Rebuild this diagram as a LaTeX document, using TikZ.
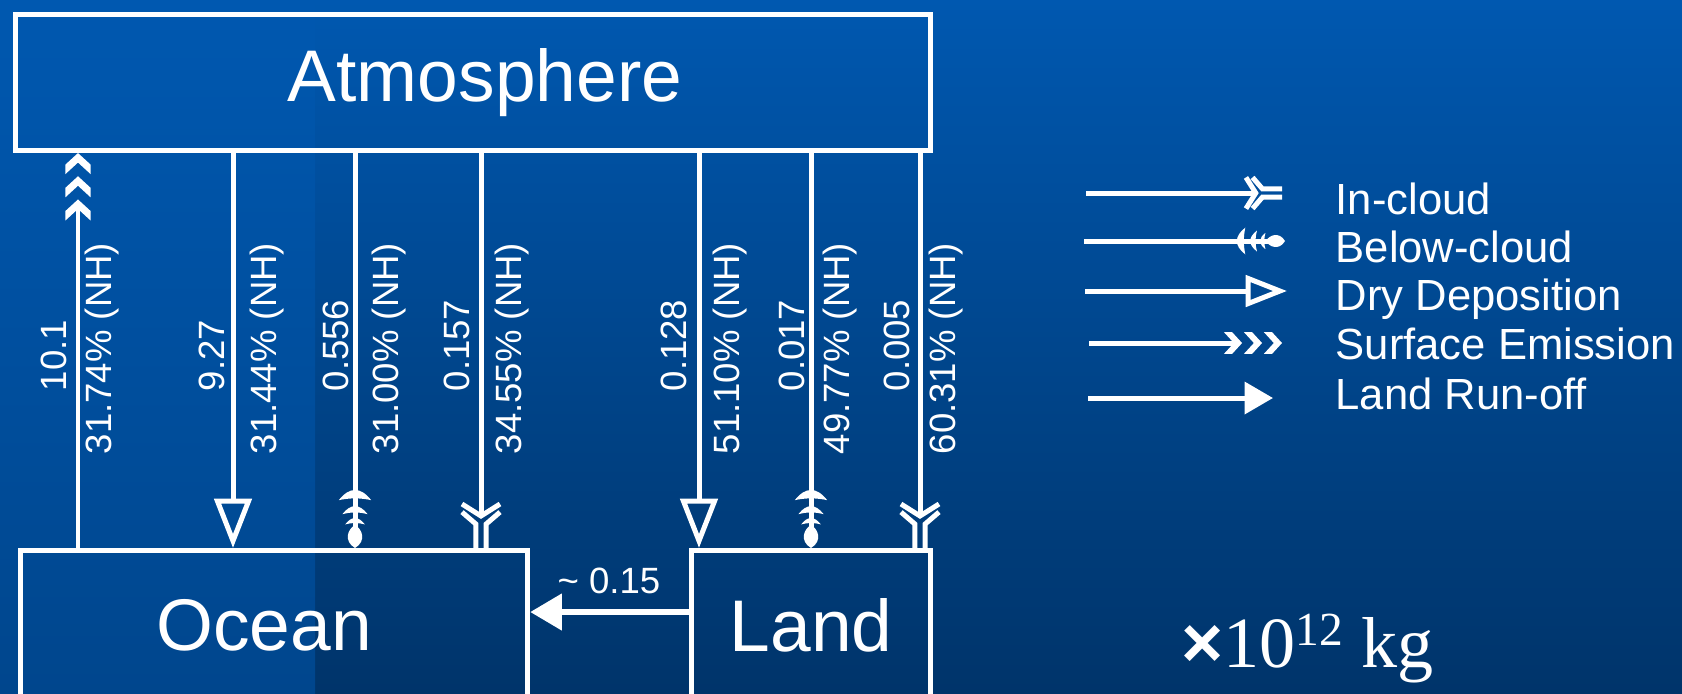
\documentclass[tikz,border=0pt]{standalone}
\usepackage{fontspec}
\setmainfont{Liberation Sans}
\newfontfamily\timesfont{Liberation Serif}
\usetikzlibrary{arrows.meta}

\definecolor{bgtop}{RGB}{0,88,176}
\definecolor{bgbot}{RGB}{0,52,106}
\definecolor{bgstrip}{RGB}{0,70,141}

\newdimen\tipu
\newdimen\tipl
\newdimen\tipb

% in-cloud: barb, then the line splits in two
\pgfdeclarearrow{
  name = InCloud,
  parameters = {\the\pgfarrowlength,\the\pgfarrowlinewidth},
  setup code = {
    \tipu=0.1\pgfarrowlength
    \tipl=-9.1\tipu
    \tipb=-12.5\tipu
    \pgfarrowssettipend{0pt}
    \pgfarrowssetlineend{\tipl}
    \pgfarrowssetbackend{\tipb}
    \pgfarrowssavethe\tipu
  },
  drawing code = {
    \pgfsetlinewidth{\pgfarrowlinewidth}
    \pgfsetmiterjoin\pgfsetbuttcap
    \pgfpathmoveto{\pgfqpoint{-12.5\tipu}{5.4\tipu}}
    \pgfpathlineto{\pgfqpoint{-9.1\tipu}{0pt}}
    \pgfpathlineto{\pgfqpoint{-12.5\tipu}{-5.4\tipu}}
    \pgfpathmoveto{\pgfqpoint{-10.2\tipu}{5.4\tipu}}
    \pgfpathlineto{\pgfqpoint{-6.8\tipu}{1.45\tipu}}
    \pgfpathlineto{\pgfqpoint{0pt}{1.45\tipu}}
    \pgfpathmoveto{\pgfqpoint{-10.2\tipu}{-5.4\tipu}}
    \pgfpathlineto{\pgfqpoint{-6.8\tipu}{-1.45\tipu}}
    \pgfpathlineto{\pgfqpoint{0pt}{-1.45\tipu}}
    \pgfusepathqstroke
  },
  defaults = {length=10pt, line width=0pt 1}
}

% below-cloud: three ribs and a drop
\pgfdeclarearrow{
  name = BelowCloud,
  parameters = {\the\pgfarrowlength},
  setup code = {
    \tipu=0.1\pgfarrowlength
    \tipl=-5\tipu
    \tipb=-16.5\tipu
    \pgfarrowssettipend{0pt}
    \pgfarrowssetlineend{\tipl}
    \pgfarrowssetbackend{\tipb}
    \pgfarrowssavethe\tipu
  },
  drawing code = {
    \pgfpathmoveto{\pgfqpoint{-13.6\tipu}{4.6\tipu}}
    \pgfpathquadraticcurveto{\pgfqpoint{-19.4\tipu}{0pt}}{\pgfqpoint{-13.6\tipu}{-4.6\tipu}}
    \pgfpathquadraticcurveto{\pgfqpoint{-14.6\tipu}{0pt}}{\pgfqpoint{-13.6\tipu}{4.6\tipu}}
    \pgfpathclose
    \pgfpathmoveto{\pgfqpoint{-9.6\tipu}{3.6\tipu}}
    \pgfpathquadraticcurveto{\pgfqpoint{-14.2\tipu}{0pt}}{\pgfqpoint{-9.6\tipu}{-3.6\tipu}}
    \pgfpathquadraticcurveto{\pgfqpoint{-10.6\tipu}{0pt}}{\pgfqpoint{-9.6\tipu}{3.6\tipu}}
    \pgfpathclose
    \pgfpathmoveto{\pgfqpoint{-6.7\tipu}{2.8\tipu}}
    \pgfpathquadraticcurveto{\pgfqpoint{-10.3\tipu}{0pt}}{\pgfqpoint{-6.7\tipu}{-2.8\tipu}}
    \pgfpathquadraticcurveto{\pgfqpoint{-7.5\tipu}{0pt}}{\pgfqpoint{-6.7\tipu}{2.8\tipu}}
    \pgfpathclose
    \pgfpathmoveto{\pgfqpoint{0pt}{0pt}}
    \pgfpathcurveto{\pgfqpoint{-2\tipu}{3.4\tipu}}{\pgfqpoint{-5.5\tipu}{2\tipu}}{\pgfqpoint{-6.5\tipu}{0pt}}
    \pgfpathcurveto{\pgfqpoint{-5.5\tipu}{-2\tipu}}{\pgfqpoint{-2\tipu}{-3.4\tipu}}{\pgfqpoint{0pt}{0pt}}
    \pgfpathclose
    \pgfusepathqfill
  },
  defaults = {length=10pt}
}

% surface emission: three chevrons
\pgfdeclarearrow{
  name = SurfEmit,
  parameters = {\the\pgfarrowlength},
  setup code = {
    \tipu=0.1\pgfarrowlength
    \tipl=-15.5\tipu
    \tipb=-19.1\tipu
    \pgfarrowssettipend{0pt}
    \pgfarrowssetlineend{\tipl}
    \pgfarrowssetbackend{\tipb}
    \pgfarrowssavethe\tipu
  },
  drawing code = {
    \pgfpathmoveto{\pgfqpoint{0pt}{0pt}}
    \pgfpathlineto{\pgfqpoint{-3.3\tipu}{3.6\tipu}}
    \pgfpathlineto{\pgfqpoint{-6\tipu}{3.6\tipu}}
    \pgfpathlineto{\pgfqpoint{-2.7\tipu}{0pt}}
    \pgfpathlineto{\pgfqpoint{-6\tipu}{-3.6\tipu}}
    \pgfpathlineto{\pgfqpoint{-3.3\tipu}{-3.6\tipu}}
    \pgfpathclose
    \pgfpathmoveto{\pgfqpoint{-6.6\tipu}{0pt}}
    \pgfpathlineto{\pgfqpoint{-9.9\tipu}{3.6\tipu}}
    \pgfpathlineto{\pgfqpoint{-12.6\tipu}{3.6\tipu}}
    \pgfpathlineto{\pgfqpoint{-9.3\tipu}{0pt}}
    \pgfpathlineto{\pgfqpoint{-12.6\tipu}{-3.6\tipu}}
    \pgfpathlineto{\pgfqpoint{-9.9\tipu}{-3.6\tipu}}
    \pgfpathclose
    \pgfpathmoveto{\pgfqpoint{-13.2\tipu}{0pt}}
    \pgfpathlineto{\pgfqpoint{-16.5\tipu}{3.6\tipu}}
    \pgfpathlineto{\pgfqpoint{-19.2\tipu}{3.6\tipu}}
    \pgfpathlineto{\pgfqpoint{-15.9\tipu}{0pt}}
    \pgfpathlineto{\pgfqpoint{-19.2\tipu}{-3.6\tipu}}
    \pgfpathlineto{\pgfqpoint{-16.5\tipu}{-3.6\tipu}}
    \pgfpathclose
    \pgfusepathqfill
  },
  defaults = {length=10pt}
}

\begin{document}
\begin{tikzpicture}[x=0.01cm, y=-0.01cm, color=white,
    box/.style={draw, line width=1.42pt, inner sep=0pt, font=\fontsize{20.8}{25}\selectfont},
    lbl/.style={rotate=90, anchor=base west, inner sep=0pt, font=\fontsize{10.4}{12}\selectfont},
    legtxt/.style={anchor=base west, inner sep=0pt, font=\fontsize{12.4}{15}\selectfont},
    flux/.style={line width=1.42pt},
    incloud/.style={-{InCloud[scale=#1]}}, incloud/.default=1,
    belowcloud/.style={-{BelowCloud[scale=#1]}}, belowcloud/.default=1,
    drydep/.style={-{Triangle[open,length=14pt,width=10.5pt,scale=#1]}}, drydep/.default=1,
    suremit/.style={-{SurfEmit[scale=#1]}}, suremit/.default=1,
    runoff/.style={-{Triangle[length=9pt,width=10pt,scale=#1]}}, runoff/.default=1]

  % background
  \useasboundingbox (0,0) rectangle (1682,693);
  \shade[top color=bgtop, bottom color=bgbot] (0,0) rectangle (1682,693);
  \shade[top color=bgtop, bottom color=bgstrip] (0,0) rectangle (315,693);

  % reservoirs
  \node[box, minimum width=9.15cm, minimum height=1.355cm] (atm) at (473,82.75) {\hspace*{0.24cm}Atmosphere};
  \node[box, minimum width=5.07cm, minimum height=1.5cm] (ocean) at (274,625.5) {Ocean\hspace*{0.2cm}};
  \node[box, minimum width=2.385cm, minimum height=1.5cm] (land) at (811.25,625.5) {Land};

  % fluxes
  \draw[flux, suremit] (ocean.north -| 78,0) -- (atm.south -| 78,0);
  \node[lbl] (v78) at (67,392) {10.1};
  \node[lbl] (p78) at (111,455) {31.74\% (NH)};

  \foreach \xx/\tp/\dest/\val/\vx/\pct/\px in {
      233/drydep/ocean/9.27/224/31.44/276.5,
      355/belowcloud/ocean/0.556/348/31.00/398,
      481/incloud/ocean/0.157/469.5/34.55/521,
      699/drydep/land/0.128/686/51.10/739,
      811/belowcloud/land/0.017/804/49.77/849,
      920/incloud/land/0.005/909.5/60.31/955.5}
  {
    \draw[flux, \tp] (atm.south -| \xx,0) -- (\dest.north -| \xx,0);
    \node[lbl] (v\xx) at (\vx,392) {\val};
    \node[lbl] (p\xx) at (\px,455) {\pct\% (NH)};
  }

  \draw[runoff, line width=1.9pt] (land.west |- 0,612) -- (ocean.east |- 0,612);
  \node[anchor=base, inner sep=0pt, font=\fontsize{10.4}{12}\selectfont] (rolbl) at (609,593) {\textasciitilde{} 0.15};

  % legend
  \foreach \ly/\lx/\lend/\tp/\sc/\ty/\txt [count=\i] in {
      193/1086/1282/incloud/0.82/214/In-cloud,
      241/1084/1285/belowcloud/0.83/262/Below-cloud,
      291/1085/1287/drydep/0.84/310/Dry Deposition,
      343/1089/1282/suremit/0.86/359/Surface Emission,
      398/1088/1273/runoff/0.9/409/Land Run-off}
  {
    \coordinate (ls\i) at (\lx,\ly);
    \coordinate (le\i) at (\lend,\ly);
    \draw[flux, \tp=\sc] (ls\i) -- (le\i);
    \node[legtxt] (leg\i) at (1335,\ty) {\txt};
  }

  \node[anchor=base west, inner sep=0pt] (unit) at (1181,667)
    {{\fontsize{20.5}{24}\selectfont\bfseries ×}{\timesfont\fontsize{20.5}{24}\selectfont 10\raisebox{6.2pt}{\fontsize{13.5}{16}\selectfont 12} kg}};
\end{tikzpicture}
\end{document}
